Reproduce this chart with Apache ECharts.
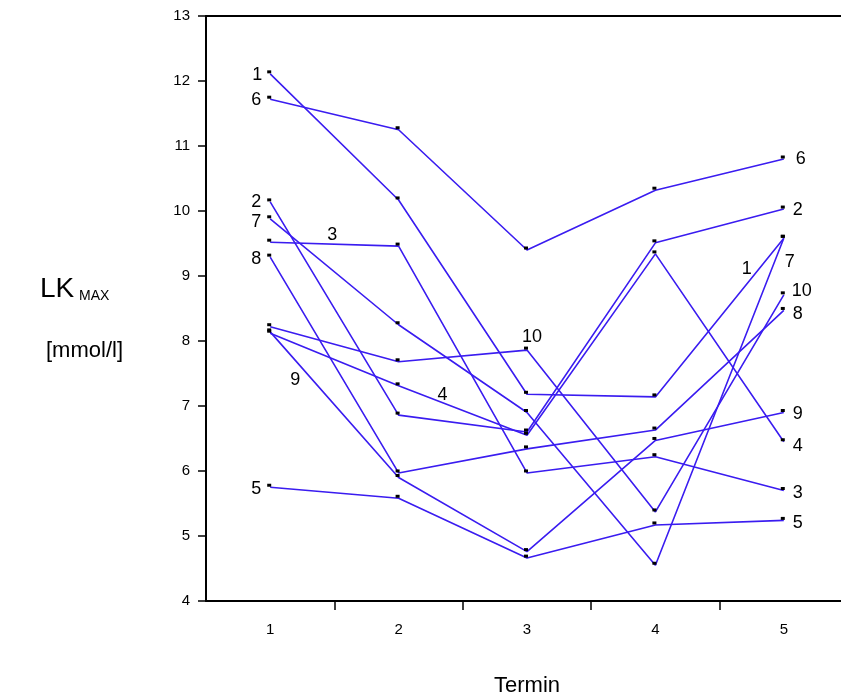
<!DOCTYPE html>
<html><head><meta charset="utf-8">
<script src="https://cdn.jsdelivr.net/npm/echarts@6/dist/echarts.min.js"></script>
<style>html,body{margin:0;padding:0;background:#fff}#c{width:841px;height:698px}</style>
</head><body><div id="c"></div>
<script>
// ---- data ----
const terms = [1, 2, 3, 4, 5];
const xTickLabels = ['1', '2', '3', '4', '5'];
const yTickMin = 4, yTickMax = 13, yTickStep = 1;
const seriesNames = ['1', '2', '3', '4', '5', '6', '7', '8', '9', '10'];
const s1  = [12.11, 10.17, 7.18, 7.14, 9.58];
const s2  = [10.14, 6.86, 6.60, 9.51, 10.03];
const s3  = [9.52, 9.46, 5.97, 6.22, 5.70];
const s4  = [8.12, 7.31, 6.55, 9.34, 6.45];
const s5  = [5.75, 5.58, 4.66, 5.17, 5.24];
const s6  = [11.72, 11.25, 9.40, 10.32, 10.80];
const s7  = [9.88, 8.25, 6.90, 4.55, 9.58];
const s8  = [9.29, 5.97, 6.34, 6.63, 8.47];
const s9  = [8.14, 5.90, 4.76, 6.47, 6.90];
const s10 = [8.22, 7.68, 7.86, 5.37, 8.71];
const allSeries = [s1, s2, s3, s4, s5, s6, s7, s8, s9, s10];

// ---- where each series number is written: [point index, dx, dy] (pixels) ----
const labelSpots = [
  [[0, -13, 1], [4, -37, 31]],
  [[0, -14, 0], [4, 14, 1]],
  [[0, 62, -7], [4, 14, 3]],
  [[1, 44, 9], [4, 14, 4]],
  [[0, -14, 2], [4, 14, 3]],
  [[0, -14, 1], [4, 17, 0]],
  [[0, -14, 3], [4, 6, 24]],
  [[0, -14, 2], [4, 14, 4]],
  [[0, 25, 48], [4, 14, 2]],
  [[2, 5, -13], [4, 18, -4]]
];

const BLUE = '#3a1cf0';
const FONT = '"Liberation Sans", Arial, Helvetica, sans-serif';
const symOff = [-1, -2];

const series = allSeries.map((vals, si) => {
  const spots = labelSpots[si];
  return {
    type: 'line',
    name: seriesNames[si],
    symbol: 'rect',
    symbolSize: [4, 3],
    symbolOffset: symOff,
    showSymbol: true,
    showAllSymbol: true,
    itemStyle: { color: '#000' },
    lineStyle: { color: BLUE, width: 1.6 },
    emphasis: { disabled: true },
    silent: true,
    z: 2,
    data: terms.map((t, i) => {
      const spot = spots.find(s => s[0] === i);
      const item = { value: [t, vals[i]] };
      if (spot) {
        item.label = {
          show: true,
          formatter: seriesNames[si],
          position: 'inside',
          offset: [spot[1] - symOff[0], spot[2] - symOff[1]],
          align: 'center',
          verticalAlign: 'middle',
          color: '#000',
          fontFamily: FONT,
          fontSize: 18
        };
      }
      return item;
    })
  };
});

const chart = echarts.init(document.getElementById('c'), null, { renderer: 'canvas' });
chart.setOption({
  animation: false,
  backgroundColor: '#fff',
  grid: { left: 206, top: 16, width: 642, height: 585, containLabel: false, outerBoundsMode: 'none' },
  xAxis: [{
    type: 'value', position: 'bottom', min: 0.5, max: 5.5,
    name: 'Termin', nameLocation: 'middle', nameGap: 74,
    nameTextStyle: { fontFamily: FONT, fontSize: 22, color: '#000' },
    axisLine: { show: true, onZero: false, lineStyle: { color: '#000', width: 2 } },
    axisTick: { show: true, inside: false, length: 9, customValues: [1.5, 2.5, 3.5, 4.5], lineStyle: { color: '#000', width: 1.5 } },
    axisLabel: { show: true, customValues: terms, margin: 21, fontFamily: FONT, fontSize: 15, color: '#000',
      formatter: v => xTickLabels[terms.indexOf(v)] },
    splitLine: { show: false }
  }, {
    type: 'value', position: 'top', min: 0.5, max: 5.5,
    axisLine: { show: true, onZero: false, lineStyle: { color: '#000', width: 2 } },
    axisTick: { show: false }, axisLabel: { show: false }, splitLine: { show: false }
  }],
  yAxis: {
    type: 'value', min: yTickMin, max: yTickMax, interval: yTickStep,
    axisLine: { show: true, onZero: false, lineStyle: { color: '#000', width: 2 } },
    axisTick: { show: true, inside: false, length: 8, lineStyle: { color: '#000', width: 1.5 } },
    axisLabel: { margin: 16, fontFamily: FONT, fontSize: 15, color: '#000' },
    splitLine: { show: false }
  },
  graphic: [
    { type: 'text', x: 40, y: 289, style: { text: 'LK', font: '28px ' + FONT, fill: '#000', textAlign: 'left', textVerticalAlign: 'middle' } },
    { type: 'text', x: 79, y: 296, style: { text: 'MAX', font: '14px ' + FONT, fill: '#000', textAlign: 'left', textVerticalAlign: 'middle' } },
    { type: 'text', x: 123, y: 351, style: { text: '[mmol/l]', font: '22px ' + FONT, fill: '#000', textAlign: 'right', textVerticalAlign: 'middle' } }
  ],
  series: series
});
</script>
</body></html>
